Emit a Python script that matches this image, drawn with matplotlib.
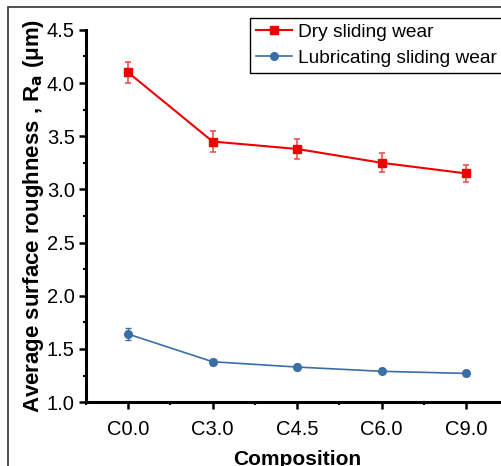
import numpy as np
import matplotlib
matplotlib.use("Agg")
import matplotlib.pyplot as plt
from matplotlib.patches import Rectangle
from matplotlib.ticker import MultipleLocator

compositions = ["C0.0", "C3.0", "C4.5", "C6.0", "C9.0"]
dry_mean = [4.10, 3.45, 3.38, 3.25, 3.15]
dry_err = [0.10, 0.10, 0.09, 0.09, 0.08]
lub_mean = [1.64, 1.38, 1.33, 1.29, 1.27]
lub_err = [0.06, 0.03, 0.025, 0.02, 0.02]

matplotlib.rcParams.update({'font.family': ['Liberation Sans', 'DejaVu Sans'],
                            'font.size': 14.5})

fig = plt.figure(figsize=(5.02, 4.66), dpi=100)
ax = fig.add_axes([0.171, 0.137, 0.842, 0.799])

x = np.arange(len(compositions))
red = '#ee0000'
blue = '#3a6ea5'

dry = ax.errorbar(x, dry_mean, yerr=dry_err, color=red, ecolor='#f04545', marker='s',
                  markersize=5.5, lw=1.5, capsize=2.5, elinewidth=1.1, capthick=1.1,
                  label='Dry sliding wear')
lub = ax.errorbar(x, lub_mean, yerr=lub_err, color=blue, ecolor=blue, marker='o',
                  markersize=5.5, lw=1.2, capsize=2.2, elinewidth=1.0, capthick=1.0,
                  label='Lubricating sliding wear')

ax.set_xlim(-0.5, 4.5)
ax.set_ylim(1.0, 4.5)
ax.set_xticks(x)
ax.set_xticklabels(compositions)
ax.xaxis.set_minor_locator(MultipleLocator(0.5))
ax.yaxis.set_major_locator(MultipleLocator(0.5))
ax.yaxis.set_minor_locator(MultipleLocator(0.25))

for s in ['top', 'right']:
    ax.spines[s].set_visible(False)
for s in ['left', 'bottom']:
    ax.spines[s].set_linewidth(2.2)
ax.tick_params(which='major', direction='out', length=5, width=1.8, pad=3)
ax.tick_params(which='minor', direction='out', length=2, width=1.5)
ax.tick_params(axis='x', pad=8)

ax.set_xlabel('Composition', fontweight='bold', fontsize=15, labelpad=8)
ax.set_ylabel('Average surface roughness , R$_\\mathbf{a}$ (\u03bcm)',
              fontweight='bold', fontsize=16, labelpad=0.5)

leg = ax.legend([dry.lines[0], lub.lines[0]],
                ['Dry sliding wear', 'Lubricating sliding wear'],
                loc='upper left', bbox_to_anchor=(0.388, 1.032), frameon=True,
                fancybox=False, edgecolor='black', framealpha=1, fontsize=13.8,
                handlelength=1.9, handletextpad=0.3, borderpad=0.3,
                labelspacing=0.45, borderaxespad=0)
leg.get_frame().set_linewidth(1.0)

fig.patches.append(Rectangle((8 / 502, -0.05), 1.2, 1 - 7 / 466 + 0.05,
                             transform=fig.transFigure, fill=False,
                             edgecolor='#333333', lw=1.2))

fig.savefig('out.png', dpi=100)
